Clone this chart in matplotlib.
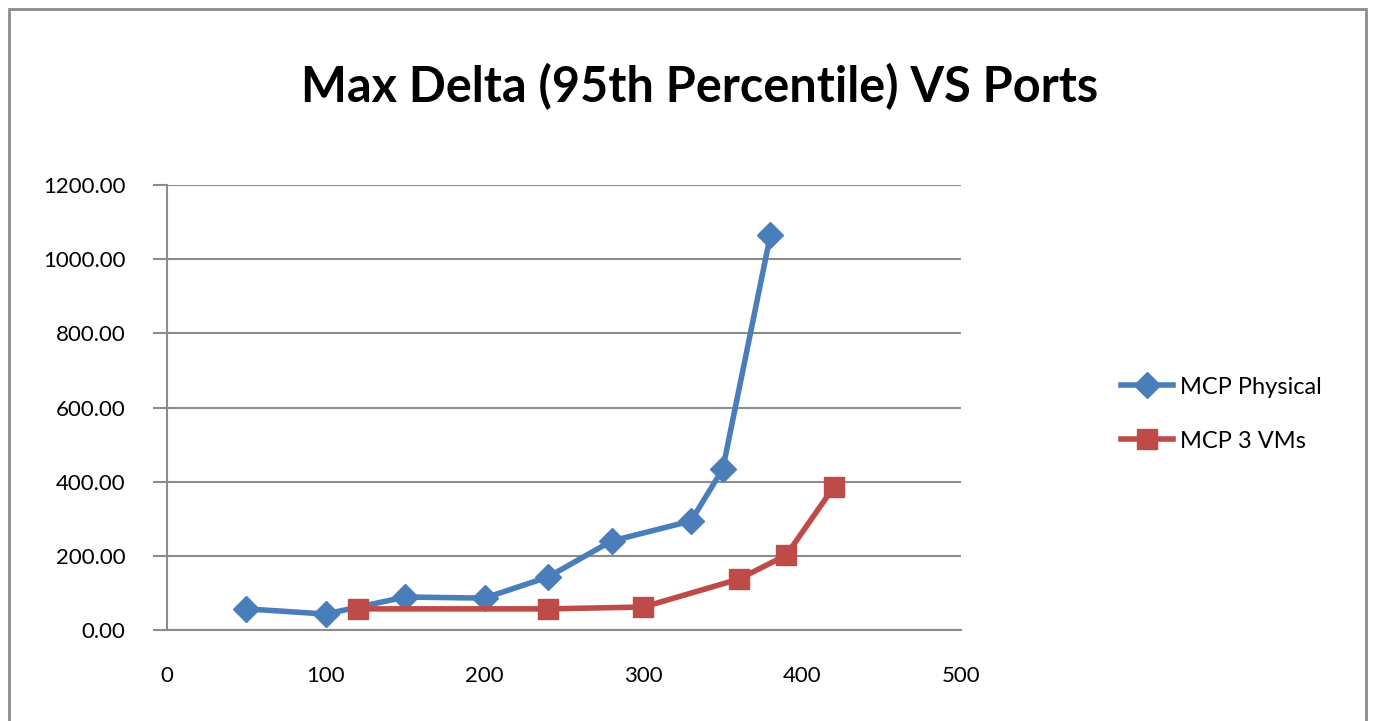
import matplotlib.pyplot as plt
from matplotlib.patches import Rectangle

# data
phys_ports = [50, 100, 150, 200, 240, 280, 330, 350, 380]
phys_delta = [57, 43, 89, 86, 143, 240, 294, 434, 1065]
vm_ports = [120, 240, 300, 360, 390, 420]
vm_delta = [57, 57, 62, 137, 202, 386]

blue = '#4A7EBB'
red = '#BE4B48'
font = ['Lato', 'DejaVu Sans']

fig = plt.figure(figsize=(13.74, 7.21), dpi=100)
ax = fig.add_axes([0.1215, 0.1262, 0.5779, 0.6172])

# outer chart border
fig.patches.append(Rectangle((9 / 1374, -0.05), (1366 - 9) / 1374, 1.05 - 9 / 721,
                             transform=fig.transFigure, fill=False,
                             edgecolor='#8c8c8c', linewidth=2))

ax.plot(phys_ports, phys_delta, color=blue, lw=4, marker='D', ms=13,
        label='MCP Physical', solid_joinstyle='round')
ax.plot(vm_ports, vm_delta, color=red, lw=4, marker='s', ms=14,
        label='MCP 3 VMs', solid_joinstyle='round')

ax.set_xlim(0, 500)
ax.set_ylim(0, 1200)
ax.set_xticks(range(0, 501, 100))
ax.set_yticks(range(0, 1201, 200))
ax.set_yticklabels([f'{v:.2f}' for v in range(0, 1201, 200)])
ax.yaxis.grid(True, color='#8c8c8c', lw=1.5)
ax.set_axisbelow(True)

for s in ['top', 'right']:
    ax.spines[s].set_visible(False)
for s in ['left', 'bottom']:
    ax.spines[s].set_color('#8c8c8c')
    ax.spines[s].set_linewidth(1.5)

ax.tick_params(axis='y', length=10, width=1.5, color='#8c8c8c', pad=20, labelsize=16)
ax.tick_params(axis='x', length=0, pad=26, labelsize=16)
for lbl in ax.get_xticklabels() + ax.get_yticklabels():
    lbl.set_family(font)

fig.text(0.509, 0.88, 'Max Delta (95th Percentile) VS Ports', ha='center', va='center',
         fontsize=35, fontweight='bold', family=font)

leg = ax.legend(loc='center left', bbox_to_anchor=(1.175, 0.485), frameon=False,
                prop={'family': font, 'size': 17}, handlelength=2.2,
                handletextpad=0.3, labelspacing=1.4)

fig.savefig('out.png', dpi=100)
